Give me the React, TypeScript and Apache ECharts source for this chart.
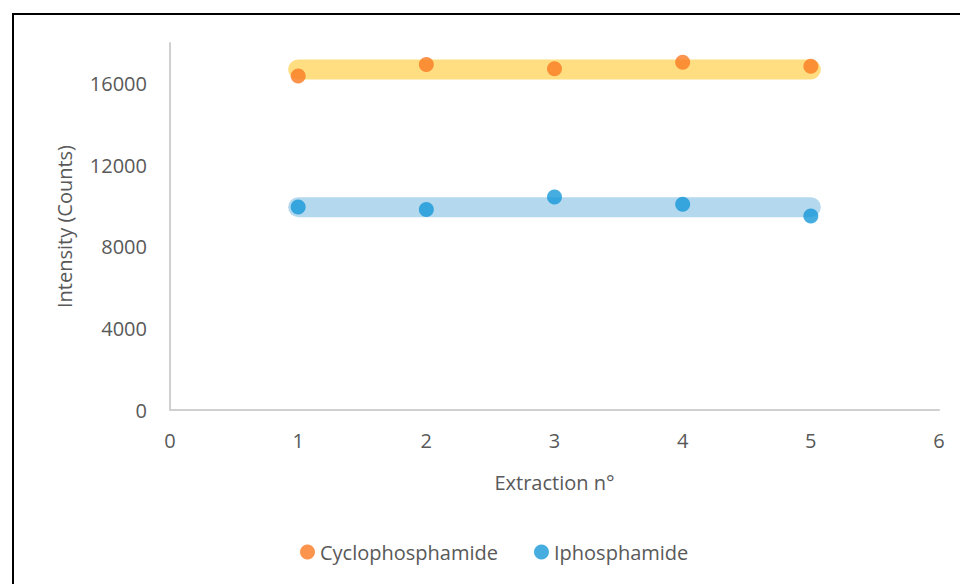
import React, { useEffect, useRef } from "react";
import * as echarts from "echarts";

const seriesNames = ["Cyclophosphamide", "Iphosphamide"];
const extractions = [1, 2, 3, 4, 5];
const cyclophosphamide = [16380, 16940, 16740, 17050, 16860];
const iphosphamide = [9960, 9830, 10450, 10090, 9520];
const bandX = [1, 5];
const cycloBand = [16700, 16700];
const iphoBand = [9950, 9950];
const yTicks = [0, 4000, 8000, 12000, 16000];
const xTicks = [0, 1, 2, 3, 4, 5, 6];

const FONT = "'Open Sans', sans-serif";
const TXT = "#595959";
const FS = 20;

export default function App() {
  const ref = useRef<HTMLDivElement>(null);
  useEffect(() => {
    document.body.style.margin = "0";
    const chart = echarts.init(ref.current!, null, { renderer: "svg" });
    chart.setOption({
      animation: false,
      backgroundColor: "#ffffff",
      textStyle: { fontFamily: FONT },
      graphic: [
        {
          type: "rect",
          shape: { x: 13, y: 14, width: 1200, height: 1200 },
          style: { fill: "none", stroke: "#000", lineWidth: 2 },
          silent: true,
        },
      ],
      grid: { left: 170, right: 21, top: 43, bottom: 174 },
      legend: {
        data: seriesNames,
        left: 295,
        top: 537,
        icon: "circle",
        itemWidth: 15,
        itemHeight: 15,
        itemGap: 36,
        textStyle: { color: TXT, fontSize: FS, fontFamily: FONT },
      },
      xAxis: {
        type: "value",
        min: xTicks[0],
        max: xTicks[xTicks.length - 1],
        interval: 1,
        name: "Extraction n°",
        nameLocation: "middle",
        nameGap: 62,
        nameTextStyle: { color: TXT, fontSize: FS, fontFamily: FONT },
        axisLine: { lineStyle: { color: "#d0d0d0", width: 2 } },
        axisTick: { show: false },
        splitLine: { show: false },
        axisLabel: { color: TXT, fontSize: FS, margin: 20, fontFamily: FONT },
      },
      yAxis: {
        type: "value",
        min: yTicks[0],
        max: 18000,
        interval: 4000,
        name: "Intensity (Counts)",
        nameLocation: "middle",
        nameGap: 96,
        nameTextStyle: { color: TXT, fontSize: FS, fontFamily: FONT },
        axisLine: { show: true, lineStyle: { color: "#d0d0d0", width: 2 } },
        axisTick: { show: false },
        splitLine: { show: false },
        axisLabel: {
          color: TXT,
          fontSize: FS,
          margin: 23,
          fontFamily: FONT,
          showMaxLabel: false,
          formatter: (v: number) => String(v),
        },
      },
      series: [
        {
          name: "cycloBand",
          type: "line",
          data: bandX.map((x, i) => [x, cycloBand[i]]),
          showSymbol: false,
          symbol: "none",
          lineStyle: { color: "#FFDE82", width: 20, cap: "round" },
          silent: true,
          z: 1,
        },
        {
          name: "iphoBand",
          type: "line",
          data: bandX.map((x, i) => [x, iphoBand[i]]),
          showSymbol: false,
          symbol: "none",
          lineStyle: { color: "#B4D8EE", width: 20, cap: "round" },
          silent: true,
          z: 1,
        },
        {
          name: seriesNames[0],
          type: "scatter",
          data: extractions.map((x, i) => [x, cyclophosphamide[i]]),
          symbolSize: 15,
          itemStyle: { color: "#FA7A22" },
          z: 3,
        },
        {
          name: seriesNames[1],
          type: "scatter",
          data: extractions.map((x, i) => [x, iphosphamide[i]]),
          symbolSize: 15,
          itemStyle: { color: "#1799D8" },
          z: 3,
        },
      ],
    });
    return () => chart.dispose();
  }, []);
  return (
    <div
      ref={ref}
      style={{ position: "fixed", left: 0, top: 0, width: 960, height: 584 }}
    />
  );
}
